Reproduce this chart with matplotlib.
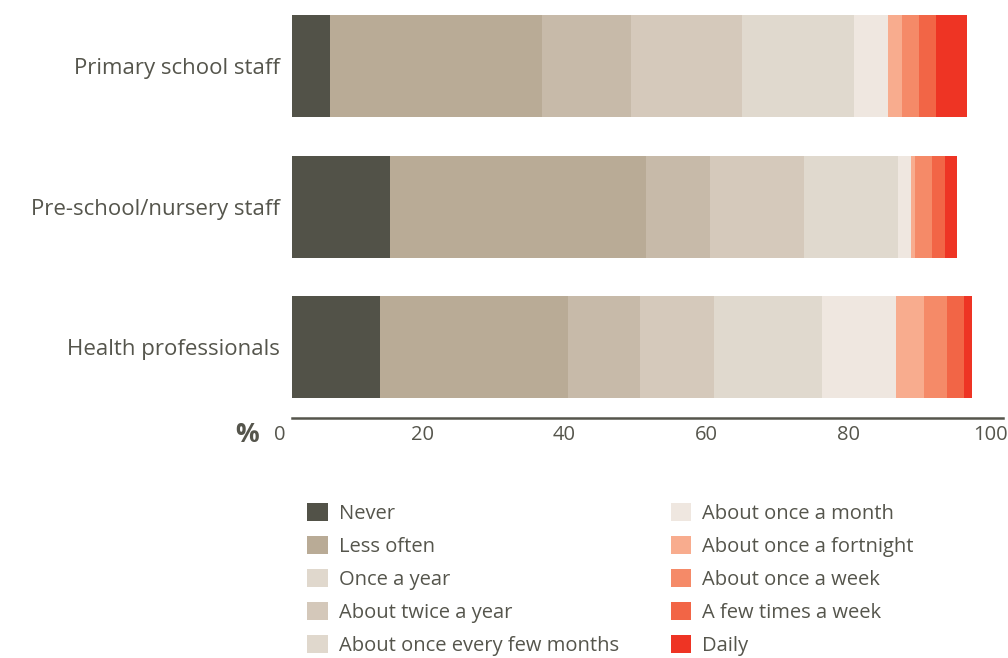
import matplotlib.pyplot as plt
from matplotlib.patches import Patch
from matplotlib.transforms import ScaledTranslation
import numpy as np

plt.rcParams['font.family'] = ['Open Sans', 'DejaVu Sans']

groups = ['Primary school staff', 'Pre-school/nursery staff', 'Health professionals']
answers = ['Never', 'Less often', 'Once a year', 'About twice a year',
           'About once every few months', 'About once a month',
           'About once a fortnight', 'About once a week',
           'A few times a week', 'Daily']

# percent per answer, one list per group
primary = [5.3, 29.8, 12.6, 15.6, 15.8, 4.7, 2.0, 2.4, 2.4, 4.4]
preschool = [13.8, 36.0, 9.0, 13.2, 13.2, 1.9, 0.5, 2.4, 1.8, 1.8]
health = [12.4, 26.4, 10.1, 10.5, 15.1, 10.5, 3.9, 3.2, 2.4, 1.1]

bar_colors = ['#525248', '#b9ab96', '#c7baa9', '#d5c9bb', '#e0d9ce',
              '#efe7e0', '#f8ac8e', '#f58a68', '#f26546', '#ee3424']
legend_colors = ['#525248', '#b9ab96', '#e0d8cd', '#d4c8ba', '#e0d8cd',
                 '#efe7e0', '#f8ac8e', '#f58a68', '#f26546', '#ee3424']

txt = '#55554c'

fig = plt.figure(figsize=(10.08, 6.58), dpi=100)
ax = fig.add_axes([0.2897, 0.3647, 0.7053, 0.6125])

data = np.array([primary, preschool, health])
ypos = np.arange(len(groups))
left = np.zeros(len(groups))
for i in range(len(answers)):
    ax.barh(ypos, data[:, i], left=left, height=0.726, color=bar_colors[i],
            edgecolor='none')
    left += data[:, i]

ax.set_xlim(0, 100)
ax.set_ylim(2.505, -0.363)
ax.set_yticks(ypos)
ax.set_yticklabels(groups, fontsize=16, color=txt)
ax.set_xticks([0, 20, 40, 60, 80, 100])
ax.set_xticklabels(['0', '20', '40', '60', '80', '100'], fontsize=14.5, color=txt)
ax.tick_params(axis='both', length=0)
ax.tick_params(axis='y', pad=9)
ax.tick_params(axis='x', pad=5)
# the labels sit a little left of their ticks in the original
shift = ScaledTranslation(-12 / 100, 0, fig.dpi_scale_trans)
for lab in ax.get_xticklabels():
    lab.set_transform(lab.get_transform() + shift)
for s in ['top', 'right', 'left']:
    ax.spines[s].set_visible(False)
ax.spines['bottom'].set_color('#55554c')
ax.spines['bottom'].set_linewidth(1.8)

fig.text(0.245, 0.340, '%', fontsize=19, fontweight='bold', color=txt,
         ha='center', va='center')

handles = [Patch(facecolor=c, edgecolor='none') for c in legend_colors]
fig.legend(handles, answers, loc='upper left', bbox_to_anchor=(0.297, 0.248),
           ncol=2, frameon=False, fontsize=14.5, labelcolor=txt,
           handlelength=1.0, handleheight=1.0, handletextpad=0.55,
           columnspacing=2.6, labelspacing=0.6, borderaxespad=0)

fig.savefig('out.png', dpi=100)
